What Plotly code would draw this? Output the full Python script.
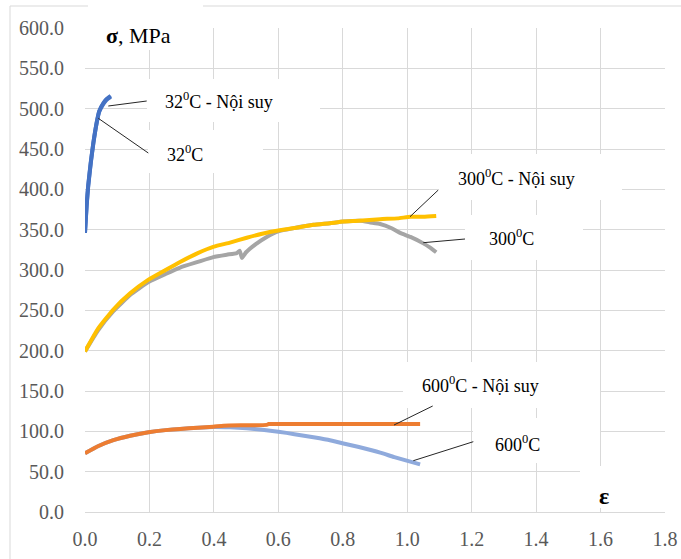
import plotly.graph_objects as go

# ---------------- data ----------------
strain_32 = [0.0, 0.005, 0.010, 0.018, 0.026, 0.036, 0.044, 0.057, 0.067, 0.080]
stress_32 = [346, 379, 404, 433, 457, 482, 497, 507, 512, 516]
strain_32_ns = [0.0, 0.005, 0.010, 0.018, 0.026, 0.036, 0.044, 0.057, 0.067, 0.080]
stress_32_ns = [347, 380, 405, 434, 458, 482, 496, 506, 511, 515]

strain_300 = [0.0, 0.04, 0.088, 0.14, 0.197, 0.25, 0.295, 0.35, 0.398, 0.44, 0.471, 0.48,
              0.487, 0.50, 0.53, 0.564, 0.60, 0.65, 0.709, 0.76, 0.802, 0.854, 0.885,
              0.916, 0.95, 0.978, 1.01, 1.05, 1.07, 1.09]
stress_300 = [199, 225, 249, 269, 285, 295, 303, 310, 316, 319, 321, 324,
              315, 322, 332, 341, 348, 352, 356, 358, 360, 361, 359,
              357, 352, 346, 341, 333, 328, 322]
strain_300_ns = [0.0, 0.04, 0.088, 0.14, 0.197, 0.25, 0.295, 0.35, 0.40, 0.45, 0.502, 0.55,
                 0.60, 0.65, 0.709, 0.76, 0.802, 0.85, 0.916, 0.97, 1.01, 1.05, 1.09]
stress_300_ns = [199, 227, 251, 271, 288, 300, 310, 321, 329, 334, 340, 345,
                 349, 352, 356, 358, 360, 361, 363, 364, 366, 366, 367]

strain_600 = [0.0, 0.04, 0.088, 0.14, 0.197, 0.25, 0.295, 0.35, 0.40, 0.45, 0.502, 0.55,
              0.60, 0.65, 0.709, 0.76, 0.802, 0.85, 0.916, 0.96, 1.004, 1.04]
stress_600 = [72.8, 81.5, 89, 94.5, 98.8, 101.5, 103, 104.5, 105.5, 105, 103.8, 102,
              99.6, 96.5, 92.6, 89, 85, 80.5, 73.6, 68, 63, 59]
strain_600_ns = [0.0, 0.04, 0.088, 0.14, 0.197, 0.25, 0.295, 0.35, 0.398, 0.43, 0.50,
                 0.564, 0.57, 0.70, 0.85, 1.04]
stress_600_ns = [72.8, 81.5, 89, 94.5, 98.8, 101.5, 103, 104.5, 105.8, 107, 107.5,
                 108, 109, 109, 109, 109]

x_ticks = [0.0, 0.2, 0.4, 0.6, 0.8, 1.0, 1.2, 1.4, 1.6, 1.8]
y_ticks = [0, 50, 100, 150, 200, 250, 300, 350, 400, 450, 500, 550, 600]

labels = ["32<sup>0</sup>C - Nội suy", "32<sup>0</sup>C",
          "300<sup>0</sup>C - Nội suy", "300<sup>0</sup>C",
          "600<sup>0</sup>C - Nội suy", "600<sup>0</sup>C"]

# ---------------- layout helpers (screen pixel -> axis) ----------------
W, H = 681, 559
PL, PR, PT, PB = 85, 665, 28, 512   # plot area in screen pixels
L, T, R, B = PL, PT, W - PR, H - PB
PW, PH = PR - PL, PB - PT
XMAX, YMAX = 1.8, 600


def X(px):
    return (px - PL) / PW * XMAX


def Y(py):
    return (PB - py) / PH * YMAX


def XP(px):
    return (px - PL) / PW


def YP(py):
    return (PB - py) / PH


SERIF = "Times New Roman, Liberation Serif, serif"

fig = go.Figure()
series = [
    ("32°C", strain_32, stress_32, "#4472C4"),
    ("32°C - Nội suy", strain_32_ns, stress_32_ns, "#4472C4"),
    ("300°C", strain_300, stress_300, "#A5A5A5"),
    ("300°C - Nội suy", strain_300_ns, stress_300_ns, "#FFC000"),
    ("600°C", strain_600, stress_600, "#8FAADC"),
    ("600°C - Nội suy", strain_600_ns, stress_600_ns, "#ED7D31"),
]
for name, xs, ys, col in series:
    fig.add_trace(go.Scatter(x=xs, y=ys, mode="lines", name=name,
                             line=dict(color=col, width=4, shape="spline", smoothing=0.4),
                             showlegend=False, hoverinfo="skip"))

shapes = []
# chart frame (left and top edges visible)
shapes.append(dict(type="rect", xref="paper", yref="paper",
                   x0=XP(10), x1=XP(700), y0=YP(580), y1=YP(6),
                   line=dict(color="#D9D9D9", width=1), fillcolor="rgba(0,0,0,0)",
                   layer="above"))
# sigma label box (covers frame)
shapes.append(dict(type="rect", xref="paper", yref="paper",
                   x0=XP(88), x1=XP(203), y0=YP(50), y1=YP(-5),
                   line=dict(width=0), fillcolor="white", layer="above"))

# white label boxes hiding gridlines (px: x0, x1, y0, y1)
boxes = [(147, 320, 79, 122), (148, 263, 130, 173),
         (438, 622, 154, 200), (465, 583, 215, 260),
         (403, 600, 362, 408), (473, 600, 418, 463),
         (580, 670, 466, 508)]
for x0, x1, y0, y1 in boxes:
    shapes.append(dict(type="rect", xref="x", yref="y",
                       x0=X(x0), x1=X(x1), y0=Y(y1), y1=Y(y0),
                       line=dict(width=0), fillcolor="white", layer="between"))

# leader lines (px from -> to)
leaders = [((146.7, 101), (108.3, 106)), ((148.3, 153), (98.3, 118.3)),
           ((438.3, 190), (410, 216.7)), ((465, 239), (423.3, 242.7)),
           ((432.7, 406), (394, 425)), ((473.3, 441.7), (413.3, 460.7))]
for (a, b) in leaders:
    shapes.append(dict(type="line", xref="x", yref="y",
                       x0=X(a[0]), y0=Y(a[1]), x1=X(b[0]), y1=Y(b[1]),
                       line=dict(color="#262626", width=1), layer="above"))

# label text positions (px: left x, center y)
text_pos = [(163, 100), (165, 153), (456, 177), (487, 237), (420, 384), (493, 443)]
annotations = []
for t, (px, py) in zip(labels, text_pos):
    annotations.append(dict(x=X(px), y=Y(py), xref="x", yref="y", text=t,
                            showarrow=False, xanchor="left", yanchor="middle",
                            font=dict(family=SERIF, size=18, color="#000000")))
annotations.append(dict(x=XP(104), y=YP(35), xref="paper", yref="paper",
                        text="<b>σ</b>, MPa", showarrow=False, xanchor="left",
                        yanchor="middle", font=dict(family=SERIF, size=22, color="#000000")))
annotations.append(dict(x=X(604), y=Y(496), xref="x", yref="y",
                        text="<b>ε</b>", showarrow=False, xanchor="center",
                        yanchor="middle", font=dict(family=SERIF, size=24, color="#000000")))

fig.update_layout(
    width=W, height=H,
    font=dict(family=SERIF, size=18, color="#595959"),
    margin=dict(l=L, r=R, t=T, b=B, pad=0, autoexpand=False),
    paper_bgcolor="white", plot_bgcolor="white",
    shapes=shapes, annotations=annotations,
    xaxis=dict(range=[0, XMAX], tickvals=x_ticks, automargin=False,
               ticktext=[f"{v:.1f}" for v in x_ticks],
               showgrid=True, gridcolor="#D9D9D9", gridwidth=1,
               zeroline=False, showline=True, linecolor="#D9D9D9", linewidth=1,
               ticks="", ticklabelstandoff=9,
               tickfont=dict(family=SERIF, size=20, color="#595959")),
    yaxis=dict(range=[0, YMAX], tickvals=y_ticks, automargin=False,
               ticktext=[f"{v:.1f}" for v in y_ticks],
               showgrid=True, gridcolor="#D9D9D9", gridwidth=1,
               zeroline=False, showline=False,
               ticks="", ticklabelstandoff=20,
               tickfont=dict(family=SERIF, size=20, color="#595959")),
)

fig.write_html(
    "out.html",
    config={"displayModeBar": False},
    post_script="document.body.style.margin='0';document.body.style.overflow='hidden';",
)
